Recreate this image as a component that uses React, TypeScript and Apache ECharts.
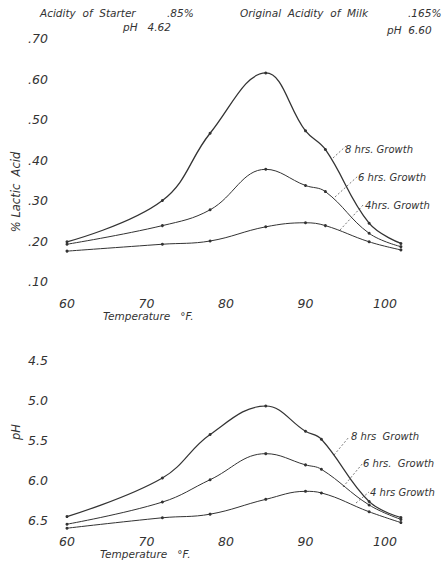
import React, { useEffect, useRef } from 'react';
import * as echarts from 'echarts';

// Temperature (°F) at which each sample was taken
const acidTemps = [60, 72, 78, 85, 90, 92.5, 98, 102];
const phTemps = [60, 72, 78, 85, 90, 92, 98, 102];

// % Lactic acid (top chart)
const acid8hrs = [0.198, 0.3, 0.466, 0.615, 0.472, 0.426, 0.244, 0.194];
const acid6hrs = [0.192, 0.238, 0.277, 0.377, 0.337, 0.322, 0.219, 0.186];
const acid4hrs = [0.175, 0.192, 0.2, 0.235, 0.245, 0.238, 0.198, 0.178];

// pH (bottom chart)
const ph8hrs = [6.445, 5.963, 5.42, 5.065, 5.38, 5.48, 6.257, 6.457];
const ph6hrs = [6.54, 6.264, 5.985, 5.66, 5.8, 5.855, 6.3, 6.48];
const ph4hrs = [6.59, 6.46, 6.415, 6.23, 6.13, 6.15, 6.385, 6.52];

const xTicks = [60, 70, 80, 90, 100];

const INK = '#333';
const FONT = '"DejaVu Sans", sans-serif';

const pairs = (xs: number[], ys: number[]) => xs.map((x, i) => [x, ys[i]]);

const txt = (text: string, x: number, y: number, size: number) => ({
  type: 'text',
  x,
  y,
  style: {
    text,
    fill: INK,
    font: `italic ${size}px ${FONT}`,
    textAlign: 'left',
    textVerticalAlign: 'middle',
  },
});

const leader = (x1: number, y1: number, x2: number, y2: number) => ({
  type: 'line',
  shape: { x1, y1, x2, y2 },
  style: { stroke: '#555', lineWidth: 0.8, lineDash: [2, 2] },
});

export default function App() {
  const ref = useRef<HTMLDivElement>(null);

  useEffect(() => {
    if (!ref.current) return;
    const chart = echarts.init(ref.current, undefined, { renderer: 'svg' });

    const labelStyle = {
      color: INK,
      fontFamily: FONT,
      fontStyle: 'italic' as const,
      fontSize: 12.5,
    };

    const xAxisBase = {
      type: 'value' as const,
      min: 60,
      max: 104,
      interval: 10,
      axisLine: { show: false },
      axisTick: { show: false },
      splitLine: { show: false },
    };

    const lineSeries = (
      name: string,
      data: number[][],
      idx: number,
      width: number
    ) => ({
      name,
      type: 'line' as const,
      xAxisIndex: idx,
      yAxisIndex: idx,
      data,
      smooth: 0.4,
      symbol: 'circle',
      symbolSize: 3,
      showSymbol: true,
      lineStyle: { color: INK, width },
      itemStyle: { color: INK },
      clip: false,
    });

    chart.setOption({
      animation: false,
      backgroundColor: '#fff',
      grid: [
        { left: 67, top: 38.5, width: 349.8, height: 243 },
        { left: 67, top: 360.7, width: 349.8, height: 168.3 },
      ],
      xAxis: [
        {
          ...xAxisBase,
          gridIndex: 0,
          axisLabel: {
            ...labelStyle,
            margin: 15,
            formatter: (v: number) => (xTicks.includes(v) ? String(v) : ''),
          },
        },
        {
          ...xAxisBase,
          gridIndex: 1,
          axisLabel: {
            ...labelStyle,
            margin: 6,
            formatter: (v: number) => (xTicks.includes(v) ? String(v) : ''),
          },
        },
      ],
      yAxis: [
        {
          type: 'value',
          gridIndex: 0,
          min: 0.1,
          max: 0.7,
          interval: 0.1,
          axisLine: { show: false },
          axisTick: { show: false },
          splitLine: { show: false },
          axisLabel: {
            ...labelStyle,
            margin: 19,
            formatter: (v: number) => v.toFixed(2).replace(/^0/, ''),
          },
        },
        {
          type: 'value',
          gridIndex: 1,
          inverse: true,
          min: 4.5,
          max: 6.6,
          interval: 0.5,
          axisLine: { show: false },
          axisTick: { show: false },
          splitLine: { show: false },
          axisLabel: {
            ...labelStyle,
            margin: 19,
            formatter: (v: number) =>
              Math.abs(v * 2 - Math.round(v * 2)) < 1e-6 ? v.toFixed(1) : '',
          },
        },
      ],
      series: [
        lineSeries('8 hrs. Growth', pairs(acidTemps, acid8hrs), 0, 1.3),
        lineSeries('6 hrs. Growth', pairs(acidTemps, acid6hrs), 0, 1),
        lineSeries('4 hrs. Growth', pairs(acidTemps, acid4hrs), 0, 1),
        lineSeries('8 hrs Growth', pairs(phTemps, ph8hrs), 1, 1.2),
        lineSeries('6 hrs. Growth', pairs(phTemps, ph6hrs), 1, 1),
        lineSeries('4 hrs Growth', pairs(phTemps, ph4hrs), 1, 1),
      ],
      graphic: [
        // header
        txt('Acidity  of  Starter', 40, 13, 10.5),
        txt('.85%', 167, 13, 10.5),
        txt('pH   4.62', 123, 27, 10.5),
        txt('Original  Acidity  of  Milk', 240, 13, 10.5),
        txt('.165%', 408, 13, 10.5),
        txt('pH  6.60', 387, 30, 10.5),
        // axis titles
        {
          type: 'text',
          x: 16,
          y: 192,
          rotation: Math.PI / 2,
          style: {
            text: '% Lactic  Acid',
            fill: INK,
            font: `italic 11.5px ${FONT}`,
            textAlign: 'center',
            textVerticalAlign: 'middle',
          },
        },
        {
          type: 'text',
          x: 16,
          y: 432,
          rotation: Math.PI / 2,
          style: {
            text: 'pH',
            fill: INK,
            font: `italic 11.5px ${FONT}`,
            textAlign: 'center',
            textVerticalAlign: 'middle',
          },
        },
        txt('Temperature   °F.', 103, 316, 10.5),
        txt('Temperature   °F.', 100, 554, 10.5),
        // top annotations
        leader(333, 158, 346, 146),
        leader(335, 197, 358, 176),
        leader(340, 230, 364, 204),
        txt('8 hrs. Growth', 345, 149, 10),
        txt('6 hrs. Growth', 358, 177, 10),
        txt('4hrs. Growth', 365, 205, 10),
        // bottom annotations
        leader(334, 455, 349, 437),
        leader(343, 487, 363, 463),
        leader(356, 503, 369, 492),
        txt('8 hrs  Growth', 351, 436, 10),
        txt('6 hrs.  Growth', 363, 463, 10),
        txt('4 hrs Growth', 370, 492, 10),
      ],
    });

    return () => chart.dispose();
  }, []);

  return (
    <div
      ref={ref}
      style={{
        position: 'fixed',
        left: 0,
        top: 0,
        width: 446,
        height: 561,
        background: '#fff',
      }}
    />
  );
}
